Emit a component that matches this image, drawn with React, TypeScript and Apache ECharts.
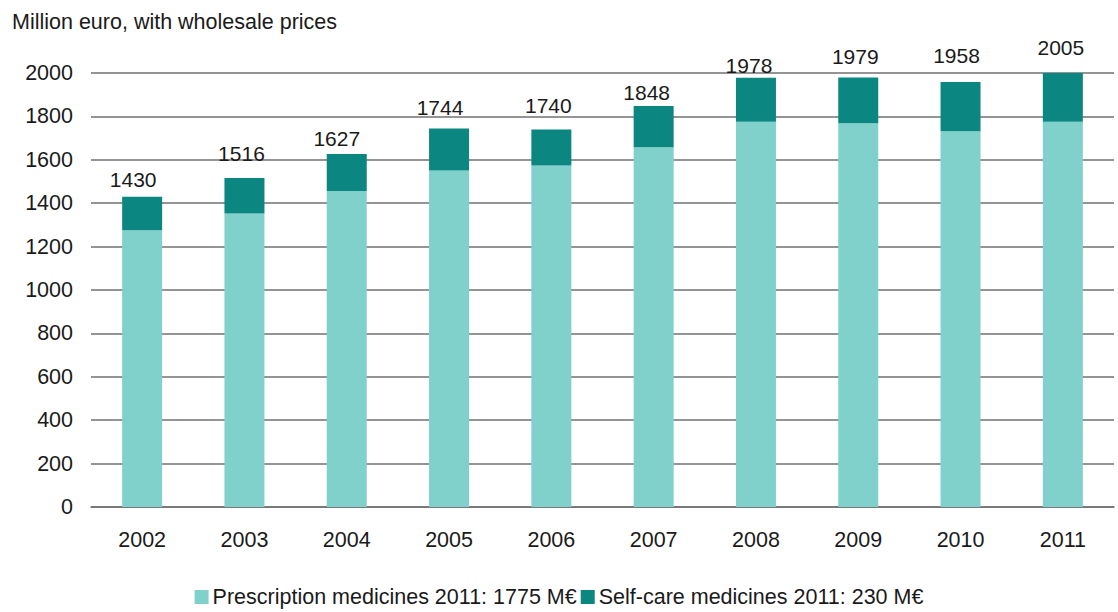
import React, { useEffect, useRef } from "react";
import * as echarts from "echarts";

const years = ["2002", "2003", "2004", "2005", "2006", "2007", "2008", "2009", "2010", "2011"];
const prescription = [1275, 1352, 1456, 1551, 1574, 1658, 1775, 1769, 1732, 1775];
const selfCare = [155, 164, 171, 193, 166, 190, 203, 210, 226, 230];
const yTicks = { min: 0, max: 2000, interval: 200 };

// manual label placement of the original (gap above bar, horizontal shift), layout only
const labelGap = [7, 14, 5, 11, 13, 3, 2, 11, 16, 15];
const labelShiftX = [-9, -3, -10, -9, -3, -7, -7, -3, -4, -2];

const FONT = "'Liberation Sans', Arial, sans-serif";
const TXT = "#1a1a1a";
const FS = 21.5;

export default function App() {
  const ref = useRef<HTMLDivElement>(null);
  useEffect(() => {
    document.body.style.margin = "0";
    const chart = echarts.init(ref.current!, null, { renderer: "svg" });
    chart.setOption({
      animation: false,
      textStyle: { fontFamily: FONT },
      title: {
        text: "Million euro, with wholesale prices",
        left: 7,
        top: 6,
        textStyle: { fontFamily: FONT, fontSize: FS, fontWeight: "normal", color: TXT },
      },
      grid: { left: 91, right: 4, top: 73, bottom: 105, containLabel: false },
      legend: {
        top: 581,
        left: "center",
        itemWidth: 14,
        itemHeight: 14,
        itemGap: 4,
        icon: "rect",
        textStyle: { fontFamily: FONT, fontSize: FS, color: TXT, padding: [0, 0, 0, -1] },
        data: [
          { name: "Prescription medicines 2011: 1775 M€" },
          { name: "Self-care medicines 2011: 230 M€" },
        ],
      },
      xAxis: {
        type: "category",
        data: years,
        axisTick: { show: false },
        axisLine: { lineStyle: { color: "#707070", width: 1.5 } },
        axisLabel: { fontFamily: FONT, fontSize: FS, color: TXT, margin: 22 },
      },
      yAxis: {
        type: "value",
        min: yTicks.min,
        max: yTicks.max,
        interval: yTicks.interval,
        axisLine: { show: false },
        axisTick: { show: false },
        axisLabel: { fontFamily: FONT, fontSize: FS, color: TXT, margin: 18, formatter: (v: number) => String(v) },
        splitLine: { lineStyle: { color: "#707070", width: 1.5 } },
      },
      series: [
        {
          name: "Prescription medicines 2011: 1775 M€",
          type: "bar",
          stack: "total",
          data: prescription,
          barWidth: 40,
          itemStyle: { color: "#80d0cb" },
        },
        {
          name: "Self-care medicines 2011: 230 M€",
          type: "bar",
          stack: "total",
          data: selfCare.map((v, i) => ({
            value: v,
            label: { distance: labelGap[i], offset: [labelShiftX[i], 0] },
          })),
          barWidth: 40,
          itemStyle: { color: "#0b8680" },
          label: {
            show: true,
            position: "top",
            fontFamily: FONT,
            fontSize: 21,
            color: TXT,
            formatter: (p: any) => String(prescription[p.dataIndex] + selfCare[p.dataIndex]),
          },
        },
      ],
    });
    return () => chart.dispose();
  }, []);
  return <div ref={ref} style={{ width: 1118, height: 612 }} />;
}
